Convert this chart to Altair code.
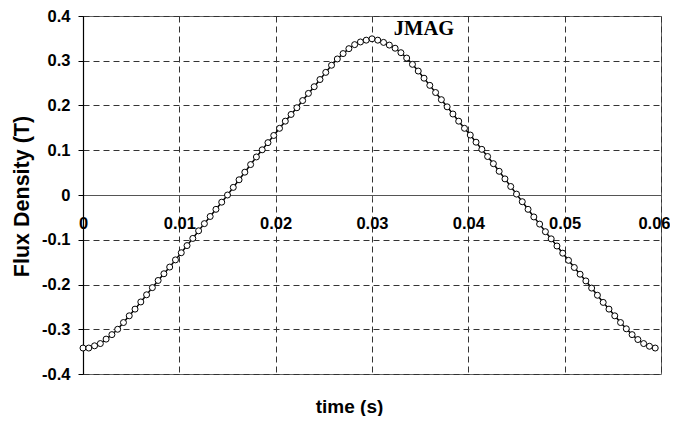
import altair as alt
import pandas as pd

# time samples (s)
time_s = [
    0.0000, 0.0006, 0.0012, 0.0018, 0.0024, 0.0030, 0.0036, 0.0042, 0.0048, 0.0054,
    0.0060, 0.0066, 0.0072, 0.0078, 0.0084, 0.0090, 0.0096, 0.0102, 0.0108, 0.0114,
    0.0120, 0.0126, 0.0132, 0.0138, 0.0144, 0.0150, 0.0156, 0.0162, 0.0168, 0.0174,
    0.0180, 0.0186, 0.0192, 0.0198, 0.0204, 0.0210, 0.0216, 0.0222, 0.0228, 0.0234,
    0.0240, 0.0246, 0.0252, 0.0258, 0.0264, 0.0270, 0.0276, 0.0282, 0.0288, 0.0294,
    0.0300, 0.0306, 0.0312, 0.0318, 0.0324, 0.0330, 0.0336, 0.0342, 0.0348, 0.0354,
    0.0360, 0.0366, 0.0372, 0.0378, 0.0384, 0.0390, 0.0396, 0.0402, 0.0408, 0.0414,
    0.0420, 0.0426, 0.0432, 0.0438, 0.0444, 0.0450, 0.0456, 0.0462, 0.0468, 0.0474,
    0.0480, 0.0486, 0.0492, 0.0498, 0.0504, 0.0510, 0.0516, 0.0522, 0.0528, 0.0534,
    0.0540, 0.0546, 0.0552, 0.0558, 0.0564, 0.0570, 0.0576, 0.0582, 0.0588, 0.0594,
]

# flux density (T)
flux_t = [
    -0.342, -0.342, -0.337, -0.332, -0.322, -0.312, -0.300, -0.285, -0.270, -0.255,
    -0.239, -0.223, -0.207, -0.191, -0.176, -0.161, -0.145, -0.129, -0.113, -0.097,
    -0.080, -0.064, -0.048, -0.032, -0.016, 0.000, 0.017, 0.034, 0.051, 0.068,
    0.085, 0.101, 0.117, 0.133, 0.149, 0.165, 0.180, 0.195, 0.211, 0.227,
    0.242, 0.258, 0.274, 0.290, 0.304, 0.316, 0.327, 0.336, 0.342, 0.346,
    0.349, 0.346, 0.341, 0.335, 0.328, 0.318, 0.306, 0.292, 0.277, 0.261,
    0.245, 0.229, 0.213, 0.197, 0.181, 0.165, 0.149, 0.134, 0.118, 0.102,
    0.086, 0.070, 0.053, 0.036, 0.019, 0.002, -0.015, -0.032, -0.049, -0.065,
    -0.082, -0.098, -0.114, -0.130, -0.146, -0.162, -0.177, -0.192, -0.208, -0.224,
    -0.240, -0.255, -0.270, -0.285, -0.299, -0.312, -0.323, -0.332, -0.338, -0.342,
]

x_ticks = [0, 0.01, 0.02, 0.03, 0.04, 0.05, 0.06]
y_ticks = [-0.4, -0.3, -0.2, -0.1, 0, 0.1, 0.2, 0.3, 0.4]

label_text = ["JMAG"]
label_t = [0.0354]
label_v = [0.372]

df = pd.DataFrame({"time": time_s, "flux": flux_t})
lab = pd.DataFrame({"time": label_t, "flux": label_v, "text": label_text})

FONT = "Liberation Sans"

x_enc = alt.X(
    "time:Q",
    scale=alt.Scale(domain=[0, 0.06], nice=False, zero=False),
    axis=alt.Axis(
        values=x_ticks,
        labelExpr="format(datum.value, '.2~f')",
        offset=-179,
        domainColor="#555555",
        domainWidth=1.2,
        tickColor="#555555",
        tickSize=4,
        labelFont=FONT,
        labelFontWeight="bold",
        labelFontSize=16.5,
        labelColor="black",
        labelPadding=16,
        labelAlign=alt.expr("datum.value >= 0.06 ? 'right' : 'center'"),
        labelOffset=alt.expr("datum.value >= 0.06 ? 9 : 0"),
        labelFlush=False,
        labelOverlap=False,
        grid=True,
        gridDash=[6, 4],
        gridColor="#333333",
        gridWidth=1,
        title="time (s)",
        titleFont=FONT,
        titleFontWeight="bold",
        titleFontSize=19,
        titleColor="black",
        titleX=266,
        titleY=211,
        titleAlign="center",
        titleBaseline="middle",
    ),
)

y_enc = alt.Y(
    "flux:Q",
    scale=alt.Scale(domain=[-0.4, 0.4], nice=False),
    axis=alt.Axis(
        values=y_ticks,
        labelExpr="(datum.value < 0 ? '-' : '') + format(abs(datum.value), '.1~f')",
        domainColor="black",
        domainWidth=1.2,
        tickColor="black",
        tickSize=5,
        labelFont=FONT,
        labelFontWeight="bold",
        labelFontSize=16.5,
        labelColor="black",
        labelPadding=8,
        labelOverlap=False,
        grid=True,
        gridDash=[6, 4],
        gridColor="#333333",
        gridWidth=1,
        title="Flux Density (T)",
        titleFont=FONT,
        titleFontWeight="bold",
        titleFontSize=21.5,
        titleColor="black",
        titleAngle=-90,
        titleX=-61,
        titleY=180,
        titleAlign="center",
        titleBaseline="middle",
    ),
)

line = alt.Chart(df).mark_line(color="black", strokeWidth=1.5).encode(x=x_enc, y=y_enc)

points = alt.Chart(df).mark_point(
    shape="circle", filled=True, fill="white", stroke="black",
    strokeWidth=1, size=36, opacity=1,
).encode(x="time:Q", y="flux:Q")

label = alt.Chart(lab).mark_text(
    font="Liberation Serif", fontWeight="bold", fontSize=20.5, color="black",
).encode(x="time:Q", y="flux:Q", text="text:N")

chart = (
    alt.layer(line, points, label)
    .properties(
        width=578,
        height=358,
        autosize=alt.AutoSizeParams(type="none"),
        padding={"left": 75, "top": 8, "right": 9, "bottom": 42},
        background="white",
    )
    .configure_view(stroke="#666666", strokeWidth=1)
)

chart.save("out.html", embed_options={"renderer": "svg", "actions": False})
